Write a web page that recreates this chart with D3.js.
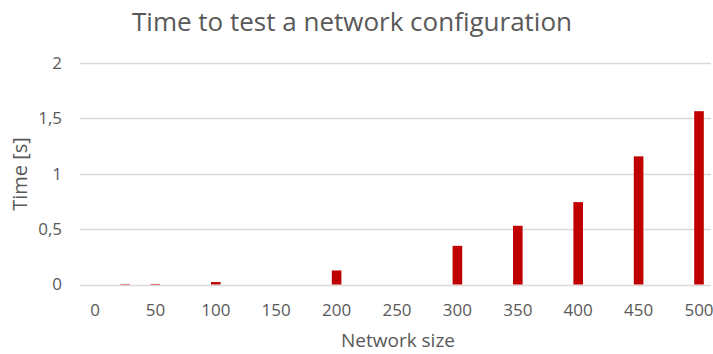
<!DOCTYPE html>
<html>
<head>
<meta charset="utf-8">
<script src="https://d3js.org/d3.v7.min.js"></script>
<style>
  body { margin: 0; background: #fff; }
  text { font-family: "Open Sans", sans-serif; fill: #595959; }
</style>
</head>
<body>
<script>
// values
const sizes = [25, 50, 100, 200, 300, 350, 400, 450, 500];
const times = [0.004, 0.005, 0.022, 0.127, 0.349, 0.53, 0.744, 1.157, 1.565];
const xTicks = [0, 50, 100, 150, 200, 250, 300, 350, 400, 450, 500];
const yTicks = [0, 0.5, 1, 1.5, 2];

const width = 713, height = 354;

const svg = d3.select('body').append('svg')
  .attr('width', width)
  .attr('height', height);

const x = d3.scaleLinear().domain([0, 500]).range([95, 699]);
const y = d3.scaleLinear().domain([0, 2]).range([284.5, 63]);
const fmt = d => String(d).replace('.', ',');

// grid
svg.append('g')
  .selectAll('line')
  .data(yTicks)
  .enter().append('line')
  .attr('x1', 80)
  .attr('x2', 711)
  .attr('y1', d => Math.round(y(d)) + 0.5)
  .attr('y2', d => Math.round(y(d)) + 0.5)
  .attr('stroke', '#d9d9d9')
  .attr('stroke-width', 1.3);

// bars
svg.append('g')
  .selectAll('rect')
  .data(sizes)
  .enter().append('rect')
  .attr('x', (d, i) => x(d) - 4.8)
  .attr('width', 9.6)
  .attr('y', (d, i) => y(times[i]))
  .attr('height', (d, i) => y(0) - y(times[i]))
  .attr('fill', '#c00000');

// y labels
svg.append('g')
  .selectAll('text')
  .data(yTicks)
  .enter().append('text')
  .attr('x', 62)
  .attr('y', d => y(d))
  .attr('dy', '0.35em')
  .attr('text-anchor', 'end')
  .attr('font-size', 17)
  .text(fmt);

// x labels
svg.append('g')
  .selectAll('text')
  .data(xTicks)
  .enter().append('text')
  .attr('x', d => x(d))
  .attr('y', 316)
  .attr('text-anchor', 'middle')
  .attr('font-size', 17)
  .text(d => d);

svg.append('text')
  .attr('x', 398)
  .attr('y', 347)
  .attr('text-anchor', 'middle')
  .attr('font-size', 19)
  .text('Network size');

svg.append('text')
  .attr('transform', 'translate(27,174) rotate(-90)')
  .attr('text-anchor', 'middle')
  .attr('font-size', 20)
  .text('Time [s]');

svg.append('text')
  .attr('x', 352)
  .attr('y', 31)
  .attr('text-anchor', 'middle')
  .attr('font-size', 26)
  .text('Time to test a network configuration');
</script>
</body>
</html>
